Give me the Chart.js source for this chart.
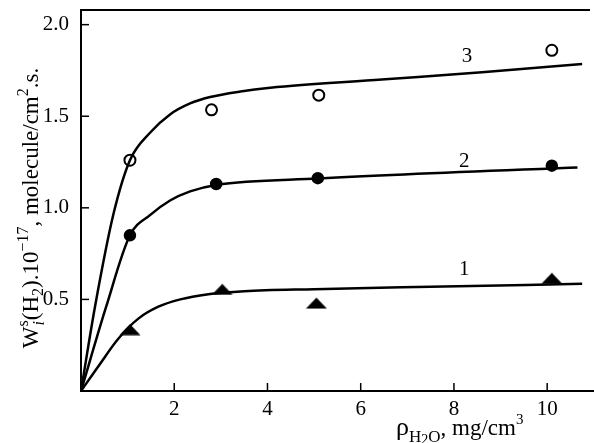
<!DOCTYPE html>
<html>
<head>
<meta charset="utf-8">
<script src="https://cdn.jsdelivr.net/npm/chart.js@4/dist/chart.umd.min.js"></script>
<style>
html,body{margin:0;padding:0;background:#fff;overflow:hidden;}
#wrap{width:594px;height:443px;position:relative;overflow:hidden;}
canvas{display:block;}
</style>
</head>
<body>
<div id="wrap"><canvas id="c" width="594" height="443"></canvas></div>
<script>
// ---- data ----
const xTicks = [2, 4, 6, 8, 10];
const yTicks = [0.5, 1.0, 1.5, 2.0];

// measured points
const pts3X = [1.05, 2.8, 5.1, 10.1];
const pts3Y = [1.26, 1.535, 1.615, 1.86];
const pts2X = [1.05, 2.9, 5.08, 10.1];
const pts2Y = [0.85, 1.13, 1.162, 1.23];
const pts1X = [1.05, 3.03, 5.05, 10.1];
const pts1Y = [0.335, 0.555, 0.48, 0.615];

// fitted curves
const curve3X = [0, 0.3, 0.7, 1.05, 1.48, 1.91, 2.34, 2.77, 3.42, 4.06, 6.45, 8.6, 10.75];
const curve3Y = [0, 0.46, 0.97, 1.26, 1.41, 1.51, 1.57, 1.605, 1.635, 1.655, 1.70, 1.74, 1.785];
const curve2X = [0, 0.54, 1.05, 1.48, 1.91, 2.34, 2.9, 5.1, 10.1, 10.65];
const curve2Y = [0, 0.46, 0.85, 0.96, 1.04, 1.09, 1.125, 1.16, 1.215, 1.22];
const curve1X = [0, 0.4, 0.8, 1.23, 1.66, 2.13, 2.77, 3.5, 5.0, 7.2, 10.75];
const curve1Y = [0, 0.145, 0.285, 0.395, 0.46, 0.50, 0.53, 0.545, 0.556, 0.568, 0.585];

const curveLabels = ['3', '2', '1'];
const curveLabelX = [8.28, 8.22, 8.22];
const curveLabelY = [1.826, 1.255, 0.665];

// ---- helpers ----
const zip = (xs, ys) => xs.map((x, i) => ({x: x, y: ys[i]}));

function triMarker() {
  const cv = document.createElement('canvas');
  cv.width = 22; cv.height = 12;
  const g = cv.getContext('2d');
  g.fillStyle = '#000';
  g.beginPath();
  g.moveTo(11, 0.5); g.lineTo(21.5, 11.5); g.lineTo(0.5, 11.5); g.closePath();
  g.fill();
  return cv;
}

const SERIF = '"Liberation Serif", "DejaVu Serif", serif';

function runsWidth(ctx, runs) {
  let total = 0;
  runs.forEach(r => { ctx.font = r.font; total += ctx.measureText(r.t).width; });
  return total;
}
function drawRuns(ctx, runs, x, y) {
  let cx = x;
  runs.forEach(r => {
    ctx.font = r.font;
    ctx.fillText(r.t, cx, y + (r.dy || 0));
    cx += ctx.measureText(r.t).width;
  });
}

const zeroPad = ax => {
  ax.paddingLeft = 0; ax.paddingRight = 0; ax.paddingTop = 0; ax.paddingBottom = 0;
};

const decorPlugin = {
  id: 'decor',
  afterDraw(chart) {
    const ctx = chart.ctx;
    const a = chart.chartArea;
    const xs = chart.scales.x, ys = chart.scales.y;
    ctx.save();
    ctx.strokeStyle = '#000';
    ctx.lineWidth = 2;
    // top frame and bottom axis run to the right edge
    ctx.beginPath();
    ctx.moveTo(a.left - 1, a.top); ctx.lineTo(590, a.top);
    ctx.moveTo(a.right - 1, a.bottom); ctx.lineTo(594, a.bottom);
    ctx.stroke();
    // inward ticks
    ctx.lineWidth = 1.5;
    yTicks.forEach(v => {
      const py = ys.getPixelForValue(v);
      ctx.beginPath(); ctx.moveTo(a.left, py); ctx.lineTo(a.left + 8, py); ctx.stroke();
    });
    xTicks.forEach(v => {
      const px = xs.getPixelForValue(v);
      ctx.beginPath(); ctx.moveTo(px, a.bottom); ctx.lineTo(px, a.bottom - 8); ctx.stroke();
    });
    ctx.fillStyle = '#000';
    // x tick labels
    ctx.textAlign = 'center';
    ctx.textBaseline = 'top';
    ctx.font = '21px ' + SERIF;
    xTicks.forEach(v => {
      ctx.fillText(String(v), xs.getPixelForValue(v), a.bottom + 8);
    });
    // curve labels
    ctx.textBaseline = 'middle';
    curveLabels.forEach((t, i) => {
      ctx.fillText(t, xs.getPixelForValue(curveLabelX[i]), ys.getPixelForValue(curveLabelY[i]));
    });
    // x title
    ctx.textAlign = 'left';
    ctx.textBaseline = 'alphabetic';
    drawRuns(ctx, [
      {t: 'ρ', font: '26px ' + SERIF},
      {t: 'H', font: '17px ' + SERIF, dy: 7},
      {t: '2', font: '14px ' + SERIF, dy: 9},
      {t: 'O', font: '17px ' + SERIF, dy: 7},
      {t: ', mg/cm', font: '23px ' + SERIF},
      {t: '3', font: '15px ' + SERIF, dy: -11}
    ], 396, 435);
    // y title
    const f = '23px ' + SERIF, fs = '16px ' + SERIF;
    const yRuns = [
      {t: 'W', font: f},
      {t: 's', font: fs, dy: -10},
      {t: '(H', font: f},
      {t: '2', font: fs, dy: 5},
      {t: ').10', font: f},
      {t: '−17', font: fs, dy: -10},
      {t: ', molecule/cm', font: f},
      {t: '2', font: fs, dy: -10},
      {t: '.s.', font: f}
    ];
    ctx.save();
    ctx.translate(38, 208);
    ctx.rotate(-Math.PI / 2);
    const total = runsWidth(ctx, yRuns);
    drawRuns(ctx, yRuns, -total / 2, 0);
    ctx.font = f;
    const wW = ctx.measureText('W').width;
    ctx.font = 'italic 16px ' + SERIF;
    ctx.fillText('i', -total / 2 + wW + 1, 6);
    ctx.restore();
    ctx.restore();
  }
};

const ctx = document.getElementById('c').getContext('2d');
const tri = triMarker();
const lineDs = (xs, ys) => ({data: zip(xs, ys), showLine: true, borderColor: '#000', borderWidth: 2.5,
  pointRadius: 0, cubicInterpolationMode: 'monotone', fill: false});
new Chart(ctx, {
  type: 'scatter',
  data: {
    datasets: [
      lineDs(curve3X, curve3Y),
      lineDs(curve2X, curve2Y),
      lineDs(curve1X, curve1Y),
      {data: zip(pts3X, pts3Y), showLine: false, pointStyle: 'circle', pointRadius: 5.5, pointBackgroundColor: '#fff', pointBorderColor: '#000', pointBorderWidth: 2},
      {data: zip(pts2X, pts2Y), showLine: false, pointStyle: 'circle', pointRadius: 7.5, pointBackgroundColor: '#000', pointBorderColor: '#fff', pointBorderWidth: 2.5},
      {data: zip(pts1X, pts1Y), showLine: false, pointStyle: tri, pointRadius: 8}
    ]
  },
  options: {
    responsive: false,
    animation: false,
    devicePixelRatio: 1,
    layout: {padding: {top: 8, right: 0, left: 0, bottom: 0}},
    plugins: {legend: {display: false}, tooltip: {enabled: false}},
    scales: {
      x: {
        type: 'linear', min: 0, max: 10.79,
        afterBuildTicks: ax => { ax.ticks = xTicks.map(v => ({value: v})); },
        afterFit: ax => { ax.height = 52; zeroPad(ax); },
        grid: {display: false, drawTicks: false},
        border: {display: true, color: '#000', width: 2},
        ticks: {display: false}
      },
      y: {
        type: 'linear', min: 0, max: 2.08,
        afterBuildTicks: ax => { ax.ticks = yTicks.map(v => ({value: v})); },
        afterFit: ax => { ax.width = 81; zeroPad(ax); },
        grid: {display: false, drawTicks: false},
        border: {display: true, color: '#000', width: 2},
        ticks: {color: '#000', font: {family: SERIF, size: 21}, padding: 12,
          callback: v => v.toFixed(1)}
      }
    }
  },
  plugins: [decorPlugin]
});
</script>
</body>
</html>
